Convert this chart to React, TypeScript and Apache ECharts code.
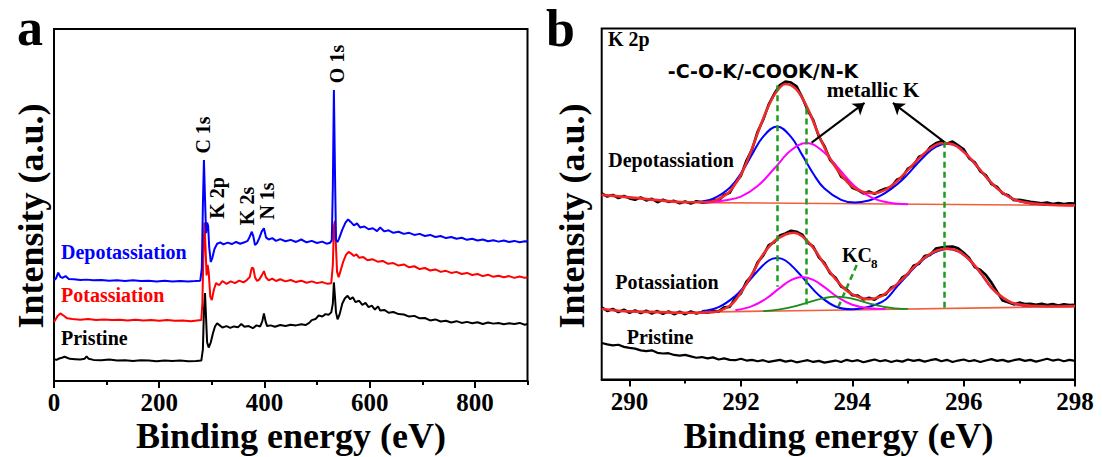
import React, { useEffect, useRef } from "react";
import * as echarts from "echarts";

// ---------- Panel a: XPS survey spectra (binding energy eV, offset intensity) ----------
const surveyPristine: [number, number][] = [
  [0, 6.2], [5, 6.0], [10, 6.4], [15, 6.6], [20, 6.9], [25, 6.6], [30, 6.3], [40, 6.2], [50, 6.1], [58, 6.3],
  [62, 7.0], [66, 6.3], [75, 6.0], [90, 5.9], [105, 6.1], [120, 5.8], [135, 5.9], [150, 5.7], [165, 5.9],
  [180, 5.8], [195, 5.6], [210, 5.8], [225, 5.7], [240, 5.8], [255, 5.6], [270, 5.7], [280, 5.8], [283, 9],
  [285, 20], [287, 25], [289, 18], [291, 11], [294, 9.5], [298, 11], [302, 13.5], [306, 15.5], [310, 16.4],
  [315, 15.8], [320, 15.2], [328, 15.6], [335, 15.1], [342, 15.5], [350, 15.3], [356, 16.2], [362, 15.4],
  [370, 15.6], [378, 15.0], [385, 15.8], [392, 15.5], [396, 17], [399, 19.2], [402, 17], [405, 15.6],
  [412, 15.8], [420, 15.4], [430, 15.9], [440, 15.6], [450, 16.0], [460, 15.8], [470, 16.1], [478, 15.9],
  [485, 16.5], [490, 17.3], [497, 17.6], [503, 18.6], [510, 18.3], [516, 19.0], [522, 18.8], [527, 19.5],
  [530, 22], [532, 28], [534, 24], [536, 19.5], [539, 17.5], [543, 19], [548, 22], [553, 23.5], [558, 24.2],
  [563, 23.2], [568, 23.8], [573, 22.4], [580, 22.8], [586, 21.6], [592, 22.2], [598, 21.0], [604, 21.4],
  [610, 20.3], [616, 21.2], [620, 20.0], [628, 20.2], [636, 19.4], [645, 19.6], [655, 19.0], [665, 18.9],
  [675, 18.3], [685, 18.5], [695, 17.8], [705, 17.9], [715, 17.2], [725, 17.5], [735, 16.9], [745, 17.1],
  [755, 16.6], [765, 17.0], [775, 16.5], [785, 16.8], [795, 16.4], [805, 16.7], [815, 16.2], [825, 16.6],
  [835, 16.3], [845, 16.5], [855, 16.1], [865, 16.4], [875, 16.2], [885, 16.5], [895, 16.0], [900, 16.2],
];

const surveyPotassiation: [number, number][] = [
  [0, 16.8], [3, 17.5], [7, 18.5], [12, 19.2], [18, 18.6], [25, 17.8], [35, 17.6], [50, 17.4], [65, 17.6],
  [80, 17.3], [95, 17.5], [110, 17.3], [125, 17.4], [140, 17.2], [155, 17.4], [170, 17.2], [185, 17.3],
  [200, 17.1], [215, 17.3], [230, 17.1], [245, 17.2], [260, 17.0], [272, 17.2], [280, 17.3], [282, 22],
  [284, 36], [286, 45], [288, 38], [290, 30], [292, 33], [294, 31], [297, 24], [300, 23], [304, 26],
  [308, 27.8], [314, 27.2], [320, 28.4], [328, 27.6], [336, 28.3], [344, 27.8], [352, 28.5], [360, 28.0],
  [366, 28.6], [372, 29.5], [376, 32.2], [379, 32], [382, 29.5], [386, 28.4], [390, 28.8], [395, 30],
  [399, 31.2], [403, 29.4], [408, 28.6], [415, 29.1], [422, 28.4], [430, 28.9], [440, 28.3], [450, 28.7],
  [460, 28.1], [470, 28.5], [480, 27.9], [490, 28.3], [500, 27.8], [510, 28.1], [520, 27.6], [527, 27.8],
  [530, 33], [532, 44], [534, 45.5], [536, 38], [538, 31], [541, 29.5], [545, 31.5], [550, 34], [555, 35.8],
  [560, 36.7], [565, 36.2], [570, 35.5], [575, 36], [580, 35], [588, 35.2], [596, 34.3], [605, 34.6],
  [615, 33.9], [625, 34.1], [635, 33.3], [645, 33.5], [655, 32.8], [665, 33.1], [675, 32.3], [685, 32.6],
  [695, 31.8], [705, 32.1], [715, 31.4], [725, 31.7], [735, 31.0], [745, 31.3], [755, 30.7], [765, 31.0],
  [775, 30.4], [785, 30.7], [795, 30.1], [805, 30.4], [815, 29.8], [825, 30.2], [835, 29.6], [845, 29.9],
  [855, 29.5], [865, 29.8], [875, 29.3], [885, 29.7], [895, 29.3], [900, 29.5],
];

const surveyDepotassiation: [number, number][] = [
  [0, 28.6], [4, 29.2], [8, 30.8], [12, 29.6], [16, 29.3], [22, 29.8], [28, 29.0], [38, 28.9], [50, 28.7],
  [62, 28.8], [75, 28.6], [90, 28.7], [105, 28.5], [120, 28.6], [135, 28.4], [150, 28.6], [165, 28.4],
  [180, 28.5], [195, 28.3], [210, 28.5], [225, 28.3], [240, 28.4], [255, 28.3], [268, 28.4], [278, 28.5],
  [281, 32], [283, 50], [285, 62.8], [287, 52], [289, 42], [291, 45], [293, 44], [295, 38], [298, 33.8],
  [301, 35], [305, 37.5], [310, 39], [316, 39.4], [322, 38.8], [330, 39.3], [338, 38.9], [346, 39.5],
  [354, 39.0], [362, 39.4], [368, 39.8], [372, 41], [376, 42.4], [379, 41], [382, 38.6], [386, 39.2],
  [390, 40.5], [395, 42.5], [399, 43.4], [403, 40.8], [408, 40.2], [415, 40.6], [422, 39.8], [430, 40.3],
  [440, 39.7], [450, 40.1], [460, 39.5], [470, 40.2], [480, 39.4], [490, 39.8], [500, 39.2], [510, 39.6],
  [518, 39.0], [525, 39.3], [528, 40], [530, 55], [532, 82.7], [534, 60], [536, 40], [539, 39.5],
  [542, 40.5], [548, 43], [554, 45], [559, 45.9], [564, 45.2], [570, 44.2], [576, 44.8], [582, 43.6],
  [590, 43.9], [598, 43.1], [606, 43.4], [614, 42.6], [620, 43.6], [628, 42.5], [636, 42.8], [645, 42.1],
  [655, 42.4], [665, 41.8], [675, 42.1], [685, 41.5], [695, 41.8], [705, 41.2], [715, 41.5], [725, 40.9],
  [735, 41.2], [745, 40.6], [755, 40.9], [765, 40.4], [775, 40.7], [785, 40.1], [795, 40.4], [805, 39.9],
  [815, 40.2], [825, 39.7], [835, 40.0], [845, 39.6], [855, 39.9], [865, 39.5], [875, 39.8], [885, 39.4],
  [895, 39.7], [900, 39.6],
];

const surveyTicks = [0, 200, 400, 600, 800];
const surveyMinorTicks = [100, 300, 500, 700, 900];

// Peak assignments on the survey, placed in page pixels
const surveyPeakLabels: { text: string; x: number; y: number }[] = [
  { text: "C 1s", x: 202.5, y: 135 },
  { text: "K 2p", x: 216.5, y: 198 },
  { text: "K 2s", x: 246.5, y: 206 },
  { text: "N 1s", x: 267, y: 201 },
  { text: "O 1s", x: 336.5, y: 64 },
];

// ---------- Panel b: K 2p high-resolution region ----------
const k2pDepotData: [number, number][] = [
  [289.5, 53.0], [289.6, 52.1], [289.7, 52.6], [289.8, 51.7], [289.9, 52.3], [290.0, 51.6], [290.1, 51.2],
  [290.2, 51.9], [290.3, 51.0], [290.4, 51.5], [290.5, 50.5], [290.6, 51.2], [290.7, 50.6], [290.8, 50.9],
  [290.9, 50.2], [291.0, 50.7], [291.1, 50.1], [291.2, 50.8], [291.3, 50.4], [291.4, 50.6], [291.5, 51.2],
  [291.6, 51.0], [291.7, 52.6], [291.8, 53.2], [291.9, 56.1], [292.0, 58.0], [292.1, 62.4], [292.2, 65.5],
  [292.3, 70.6], [292.4, 74.0], [292.5, 78.4], [292.6, 81.4], [292.7, 83.9], [292.8, 84.9], [292.9, 84.6],
  [293.0, 83.5], [293.1, 80.4], [293.2, 76.7], [293.3, 73.9], [293.4, 69.2], [293.5, 66.5], [293.6, 62.6],
  [293.7, 60.9], [293.8, 57.8], [293.9, 56.8], [294.0, 54.6], [294.1, 54.0], [294.2, 53.0], [294.3, 53.6],
  [294.4, 52.9], [294.5, 53.8], [294.6, 54.4], [294.7, 54.8], [294.8, 56.9], [294.9, 57.6], [295.0, 60.1],
  [295.1, 61.0], [295.2, 63.5], [295.3, 64.1], [295.4, 66.2], [295.5, 67.3], [295.6, 67.9], [295.7, 67.2],
  [295.8, 67.8], [295.9, 66.7], [296.0, 65.6], [296.1, 63.0], [296.2, 61.9], [296.3, 59.3], [296.4, 58.2],
  [296.5, 55.7], [296.6, 54.9], [296.7, 53.0], [296.8, 52.5], [296.9, 51.1], [297.0, 51.2], [297.1, 50.9],
  [297.2, 50.6], [297.3, 50.4], [297.4, 50.2], [297.5, 50.4], [297.6, 50.0], [297.7, 50.3], [297.8, 50.0],
  [297.9, 50.2], [298.0, 50.1],
];

const k2pDepotEnvelope: [number, number][] = [
  [289.5, 52.6], [290.0, 51.9], [290.5, 51.1], [291.0, 50.5], [291.3, 50.5], [291.5, 50.8], [291.7, 52.3],
  [291.8, 53.6], [292.0, 58.3], [292.2, 65.8], [292.4, 74.3], [292.6, 81.1], [292.8, 84.2], [293.0, 82.6],
  [293.2, 77.2], [293.4, 69.6], [293.6, 63.0], [293.8, 58.3], [294.0, 55.0], [294.2, 53.4], [294.4, 53.1],
  [294.6, 54.1], [294.8, 56.4], [295.0, 59.7], [295.2, 63.0], [295.4, 65.8], [295.6, 67.3], [295.8, 67.0],
  [296.0, 64.9], [296.2, 61.6], [296.4, 57.8], [296.6, 54.5], [296.8, 52.2], [297.0, 50.8], [297.5, 49.8],
  [298.0, 49.6],
];

const k2pDepotBlue: [number, number][] = [
  [291.2, 50.6], [291.5, 51.5], [291.8, 54.6], [292.0, 58.7], [292.2, 64.1], [292.4, 69.2], [292.65, 72.1],
  [292.9, 69.1], [293.1, 64.0], [293.3, 58.6], [293.5, 54.4], [293.8, 51.2], [294.05, 50.4], [294.3, 51.0],
  [294.5, 52.3], [294.7, 54.3], [294.9, 56.9], [295.1, 60.3], [295.3, 63.7], [295.5, 66.3], [295.7, 67.2],
  [295.9, 66.4], [296.1, 63.2], [296.3, 59.6], [296.5, 56.0], [296.7, 53.2], [296.9, 51.4], [297.1, 50.4],
  [297.4, 49.9], [297.7, 49.7],
];

const k2pDepotMagenta: [number, number][] = [
  [291.4, 50.4], [291.7, 51.0], [292.0, 52.1], [292.3, 55.1], [292.6, 60.1], [292.9, 65.3], [293.18, 67.4],
  [293.45, 65.3], [293.75, 60.2], [294.05, 55.0], [294.35, 51.8], [294.65, 50.4], [295.0, 49.9],
];

const k2pDepotBackground: [number, number][] = [[291.3, 50.4], [298.0, 49.6]];

const k2pPotData: [number, number][] = [
  [289.5, 20.6], [289.6, 19.5], [289.7, 20.1], [289.8, 19.2], [289.9, 19.9], [290.0, 19.0], [290.1, 19.7],
  [290.2, 18.9], [290.3, 19.6], [290.4, 18.8], [290.5, 19.5], [290.6, 18.7], [290.7, 19.4], [290.8, 18.6],
  [290.9, 19.3], [291.0, 18.6], [291.1, 19.4], [291.2, 18.8], [291.3, 19.2], [291.4, 19.0], [291.5, 19.6],
  [291.6, 19.4], [291.7, 20.6], [291.8, 20.7], [291.9, 23.2], [292.0, 24.5], [292.1, 27.9], [292.2, 29.6],
  [292.3, 33.4], [292.4, 35.3], [292.5, 38.3], [292.6, 39.1], [292.7, 41.0], [292.8, 41.6], [292.9, 42.4],
  [293.0, 42.1], [293.1, 41.3], [293.2, 39.0], [293.3, 37.9], [293.4, 34.8], [293.5, 33.2], [293.6, 30.3],
  [293.7, 29.0], [293.8, 26.5], [293.9, 25.7], [294.0, 24.0], [294.1, 23.9], [294.2, 22.8], [294.3, 23.3],
  [294.4, 22.7], [294.5, 23.9], [294.6, 24.2], [294.7, 26.2], [294.8, 26.8], [294.9, 29.1], [295.0, 30.0],
  [295.1, 32.4], [295.2, 33.0], [295.3, 35.2], [295.4, 35.5], [295.5, 37.3], [295.6, 37.6], [295.7, 37.8],
  [295.8, 37.9], [295.9, 37.4], [296.0, 36.1], [296.1, 34.6], [296.2, 32.0], [296.3, 31.2], [296.4, 29.8],
  [296.5, 27.6], [296.6, 25.0], [296.7, 22.5], [296.8, 22.0], [296.9, 21.4], [297.0, 21.9], [297.1, 21.5],
  [297.2, 21.6], [297.3, 21.3], [297.4, 21.6], [297.5, 21.2], [297.6, 21.5], [297.7, 21.1], [297.8, 21.4],
  [297.9, 21.2], [298.0, 21.3],
];

const k2pPotEnvelope: [number, number][] = [
  [289.5, 20.1], [289.8, 19.6], [290.0, 19.4], [290.5, 19.2], [291.0, 19.0], [291.5, 19.2], [291.8, 21.0],
  [292.0, 24.8], [292.2, 30.0], [292.4, 35.7], [292.6, 39.4], [292.8, 41.3], [292.95, 41.8], [293.1, 40.8],
  [293.3, 37.5], [293.5, 32.8], [293.7, 28.6], [293.9, 25.3], [294.1, 23.6], [294.3, 22.9], [294.5, 23.6],
  [294.7, 25.8], [294.9, 28.6], [295.1, 31.9], [295.3, 34.7], [295.5, 36.6], [295.7, 37.3], [295.9, 36.6],
  [296.1, 34.2], [296.3, 30.5], [296.5, 26.2], [296.7, 23.4], [296.9, 21.7], [297.2, 21.0], [297.6, 20.8],
  [298.0, 20.9],
];

const k2pPotBlue: [number, number][] = [
  [291.3, 19.5], [291.6, 20.6], [291.9, 23.8], [292.1, 27.2], [292.3, 30.9], [292.5, 33.9], [292.65, 34.6],
  [292.8, 33.9], [293.0, 31.0], [293.2, 27.4], [293.4, 24.0], [293.7, 20.8], [294.0, 20.0], [294.2, 20.4],
  [294.4, 21.2], [294.6, 22.8], [294.8, 26.4], [295.0, 29.9], [295.2, 33.2], [295.4, 35.6], [295.6, 36.9],
  [295.7, 37.2], [295.9, 36.5], [296.1, 34.1], [296.3, 30.4], [296.5, 26.1], [296.7, 23.3], [296.9, 21.6],
  [297.2, 20.9],
];

const k2pPotMagenta: [number, number][] = [
  [291.9, 19.7], [292.2, 20.9], [292.45, 23.0], [292.7, 26.1], [292.9, 28.3], [293.1, 29.2], [293.3, 28.4],
  [293.5, 26.3], [293.75, 23.3], [294.0, 21.3], [294.3, 20.3], [294.6, 20.1],
];

const k2pPotGreen: [number, number][] = [
  [292.4, 19.5], [292.7, 20.0], [293.0, 21.0], [293.3, 22.4], [293.5, 23.2], [293.7, 23.6], [293.9, 23.3],
  [294.1, 22.6], [294.4, 21.3], [294.7, 20.4], [295.0, 20.1],
];

const k2pPotBackground: [number, number][] = [[291.3, 19.2], [298.0, 20.8]];

const k2pPristine: [number, number][] = [
  [289.5, 10.4], [289.6, 10.0], [289.7, 9.7], [289.8, 9.9], [289.9, 9.3], [290.0, 9.0], [290.1, 8.8],
  [290.2, 8.3], [290.3, 8.1], [290.4, 8.3], [290.5, 7.6], [290.6, 7.4], [290.7, 7.5], [290.8, 7.0],
  [290.9, 6.8], [291.0, 7.0], [291.1, 6.6], [291.2, 6.2], [291.3, 6.4], [291.4, 6.0], [291.5, 6.3],
  [291.6, 5.7], [291.7, 6.0], [291.8, 5.6], [291.9, 5.5], [292.0, 5.9], [292.1, 5.4], [292.2, 5.6],
  [292.3, 5.2], [292.4, 5.5], [292.5, 5.0], [292.6, 5.3], [292.7, 5.6], [292.8, 5.1], [292.9, 5.4],
  [293.0, 4.9], [293.1, 5.2], [293.2, 5.5], [293.3, 5.0], [293.4, 5.3], [293.5, 4.8], [293.6, 5.1],
  [293.7, 5.4], [293.8, 5.0], [293.9, 5.6], [294.0, 5.2], [294.1, 5.5], [294.2, 4.9], [294.3, 5.3],
  [294.4, 5.7], [294.5, 5.2], [294.6, 5.5], [294.7, 5.0], [294.8, 5.4], [294.9, 5.1], [295.0, 5.7],
  [295.1, 5.3], [295.2, 5.6], [295.3, 5.1], [295.4, 5.5], [295.5, 5.8], [295.6, 5.2], [295.7, 5.6],
  [295.8, 5.0], [295.9, 5.4], [296.0, 5.7], [296.1, 5.2], [296.2, 5.5], [296.3, 5.0], [296.4, 5.4],
  [296.5, 5.8], [296.6, 5.3], [296.7, 5.6], [296.8, 5.1], [296.9, 5.5], [297.0, 5.8], [297.1, 5.3],
  [297.2, 5.6], [297.3, 5.1], [297.4, 5.5], [297.5, 5.9], [297.6, 5.4], [297.7, 5.7], [297.8, 5.2],
  [297.9, 5.6], [298.0, 5.3],
];

// Guide lines at component positions and the KC8 pointer
const k2pGuides: [number, number][][] = [
  [[292.66, 83.8], [292.66, 26.4]],
  [[293.18, 77.2], [293.18, 20.3]],
  [[295.66, 67.7], [295.66, 20.2]],
  [[294.08, 32.6], [293.75, 20.7]],
];

// Arrows pointing from the "metallic K" label to its two components
const k2pArrows: [number, number][][] = [
  [[293.27, 67.5], [294.22, 78.8]],
  [[295.65, 67.7], [294.73, 78.8]],
];

const k2pTicks = [290, 292, 294, 296, 298];
const k2pMinorTicks = [291, 293, 295, 297];

const SERIF = '"Liberation Serif", "Times New Roman", Times, serif';
const SANS = '"DejaVu Sans", "Liberation Sans", sans-serif';

const BLUE = "#0000ff";
const RED = "#ff0000";
const FIT_RED = "#f22a2a";
const MAGENTA = "#ff00ff";
const GREEN = "#1a8c1a";
const BG_LINE = "#f0603c";

function text(
  str: string,
  x: number,
  y: number,
  font: string,
  fill: string,
  align: "left" | "center" | "right" = "left",
  rotation = 0
) {
  return {
    type: "text",
    x,
    y,
    rotation,
    silent: true,
    z: 100,
    style: {
      text: str,
      font,
      fill,
      textAlign: align,
      align,
      textVerticalAlign: "middle",
      verticalAlign: "middle",
    },
  };
}

function axisPair(gridIndex: number, min: number, max: number, major: number[], minor: number[]) {
  const labelStyle = {
    fontFamily: SERIF,
    fontWeight: "bold",
    fontSize: 25,
    color: "#000",
  };
  return [
    {
      type: "value",
      gridIndex,
      min,
      max,
      position: "bottom",
      axisLine: { show: true, onZero: false, lineStyle: { color: "#000", width: 2 } },
      axisTick: { show: true, inside: false, length: 7, customValues: major, lineStyle: { color: "#000", width: 2 } },
      axisLabel: { show: true, margin: 9, customValues: major, ...labelStyle },
      splitLine: { show: false },
    },
    {
      type: "value",
      gridIndex,
      min,
      max,
      position: "bottom",
      axisLine: { show: false, onZero: false },
      axisTick: { show: true, inside: false, length: 4, customValues: minor, lineStyle: { color: "#000", width: 2 } },
      axisLabel: { show: false },
      splitLine: { show: false },
    },
  ];
}

function line(data: [number, number][], color: string, width: number, xAxisIndex: number, yAxisIndex: number, smooth: boolean | number = false) {
  return {
    type: "line",
    data,
    xAxisIndex,
    yAxisIndex,
    showSymbol: false,
    symbol: "none",
    smooth,
    silent: true,
    lineStyle: { color, width },
  };
}

export default function App() {
  const ref = useRef<HTMLDivElement>(null);

  useEffect(() => {
    if (!ref.current) return;
    const chart = echarts.init(ref.current, null, { renderer: "svg" });

    const boldSerif = (px: number) => `bold ${px}px ${SERIF}`;

    chart.setOption({
      animation: false,
      backgroundColor: "#fff",
      grid: [
        { left: 54, top: 29, width: 473.5, height: 352, show: true, borderColor: "#000", borderWidth: 2 },
        { left: 601.7, top: 28.5, width: 473.3, height: 351, show: true, borderColor: "#000", borderWidth: 2 },
      ],
      xAxis: [
        ...axisPair(0, 0, 900, surveyTicks, surveyMinorTicks),
        ...axisPair(1, 289.5, 298, k2pTicks, k2pMinorTicks),
      ],
      yAxis: [
        { type: "value", gridIndex: 0, min: 0, max: 100, show: false },
        { type: "value", gridIndex: 1, min: 0, max: 100, show: false },
      ],
      series: [
        // panel a
        line(surveyPristine, "#000", 2, 0, 0),
        line(surveyPotassiation, RED, 2, 0, 0),
        line(surveyDepotassiation, BLUE, 2, 0, 0),
        // panel b: backgrounds
        line(k2pDepotBackground, BG_LINE, 1.6, 2, 1),
        line(k2pPotBackground, BG_LINE, 1.6, 2, 1),
        // panel b: measured data
        line(k2pPristine, "#000", 2.2, 2, 1),
        line(k2pDepotData, "#000", 2.6, 2, 1),
        line(k2pPotData, "#000", 2.6, 2, 1),
        // panel b: fitted components
        line(k2pDepotBlue, BLUE, 2, 2, 1, 0.4),
        line(k2pDepotMagenta, MAGENTA, 2, 2, 1, 0.4),
        line(k2pPotBlue, BLUE, 2, 2, 1, 0.4),
        line(k2pPotMagenta, MAGENTA, 2, 2, 1, 0.4),
        line(k2pPotGreen, GREEN, 1.8, 2, 1, 0.4),
        // panel b: fitted envelopes
        line(k2pDepotEnvelope, FIT_RED, 2.6, 2, 1, 0.35),
        line(k2pPotEnvelope, FIT_RED, 2.6, 2, 1, 0.35),
        {
          type: "lines",
          coordinateSystem: "cartesian2d",
          xAxisIndex: 2,
          yAxisIndex: 1,
          silent: true,
          symbol: "none",
          lineStyle: { color: "#1f9a1f", width: 2.5, type: [6, 4], opacity: 1, curveness: 0 },
          data: k2pGuides.map((coords) => ({ coords })),
          z: 4,
        },
        {
          type: "lines",
          coordinateSystem: "cartesian2d",
          xAxisIndex: 2,
          yAxisIndex: 1,
          silent: true,
          symbol: ["none", "arrow"],
          symbolSize: 11,
          lineStyle: { color: "#000", width: 2, opacity: 1, curveness: 0 },
          data: k2pArrows.map((coords) => ({ coords })),
          z: 4,
        },
      ],
      graphic: [
        // panel a
        text("a", 17, 27, boldSerif(52), "#000"),
        text("Intensity (a.u.)", 31, 216, boldSerif(36), "#000", "center", Math.PI / 2),
        text("Binding energy (eV)", 291, 436, boldSerif(36), "#000", "center"),
        text("Depotassiation", 61, 251.5, boldSerif(20), BLUE),
        text("Potassiation", 61, 294.5, boldSerif(20), RED),
        text("Pristine", 61, 338, boldSerif(20), "#000"),
        ...surveyPeakLabels.map((p) => text(p.text, p.x, p.y, boldSerif(20), "#000", "center", Math.PI / 2)),
        // panel b
        text("b", 546, 28, boldSerif(52), "#000"),
        text("Intensity (a.u.)", 572, 216, boldSerif(36), "#000", "center", Math.PI / 2),
        text("Binding energy (eV)", 838.5, 436, boldSerif(36), "#000", "center"),
        text("K 2p", 608, 39, boldSerif(20), "#000"),
        text("-C-O-K/-COOK/N-K", 763, 71, `bold 19px ${SANS}`, "#000", "center"),
        text("metallic K", 873, 90, boldSerif(21), "#000", "center"),
        text("Depotassiation", 671, 160, boldSerif(20), "#000", "center"),
        text("Potassiation", 667, 281.5, boldSerif(20), "#000", "center"),
        text("Pristine", 660, 337, boldSerif(20), "#000", "center"),
        text("KC", 842, 254.5, boldSerif(20), "#000"),
        text("8", 871, 263, boldSerif(13), "#000"),
      ],
    });

    return () => chart.dispose();
  }, []);

  return (
    <div
      ref={ref}
      style={{ position: "fixed", left: 0, top: 0, width: 1102, height: 457, background: "#fff" }}
    />
  );
}
